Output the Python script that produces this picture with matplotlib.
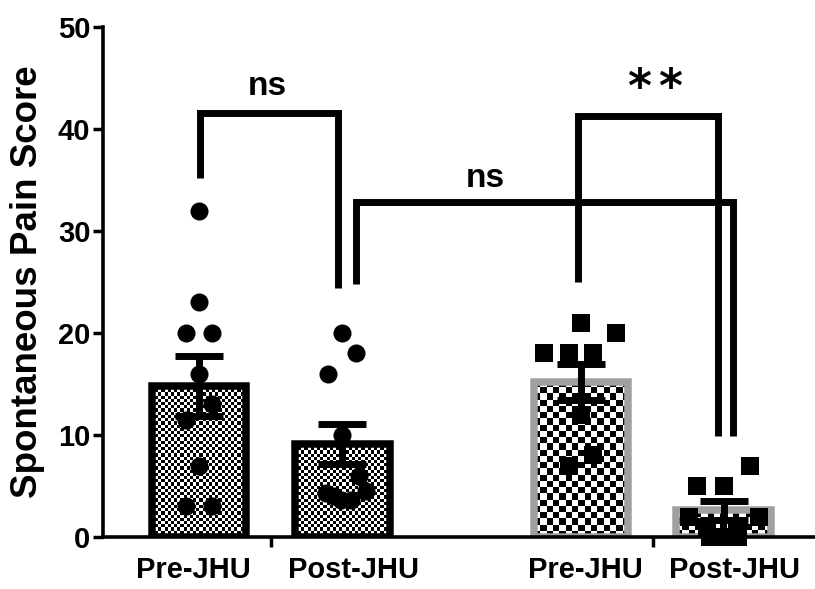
import numpy as np
import matplotlib
matplotlib.use('Agg')
import matplotlib.pyplot as plt

plt.rcParams['font.family'] = ['Liberation Sans', 'DejaVu Sans']
plt.rcParams['font.weight'] = 'bold'

# data
groups = ['Pre-JHU', 'Post-JHU', 'Pre-JHU', 'Post-JHU']
means = [14.8, 9.1, 15.2, 2.6]
sems = [2.95, 1.95, 1.8, 0.9]

pre_1 = [32, 23, 20, 20, 16, 13, 11.5, 7, 3, 3]
post_1 = [20, 18, 16, 10, 6, 4.5, 4.3, 4, 3.6, 3.6]
pre_2 = [21, 20, 18, 18, 18, 12, 8, 7]
post_2 = [7, 5, 5, 2, 2, 1, 1, 0, 0, 0]
points = [pre_1, post_1, pre_2, post_2]

# layout
xpos = [0, 1, 2.663, 3.656]
label_x = [-0.042, 1.08, 2.69, 3.735]
sep_x = [0.502, 3.164]
bar_w = 0.66
px_per_unit = 143.5
jitter_px = [
    [0, 0, -13, 13, 0, 13, -13, 0, -13, 13],
    [0, 14, -14, 0, 17, 24, -16, -8, -1, 9],
    [0, 35, -37, -12, 12, 0, 12, -12],
    [26, -27, 0, -35, 35, -17, 13, -14, 0, 14],
]
markers = ['o', 'o', 's', 's']
edge_colors = ['black', 'black', '#a0a0a0', '#a0a0a0']
cell_px = [3.2, 3.2, 6.3, 6.3]

# (x left, x right, top, left bottom, right bottom, text, text x, text y)
brackets = [
    (0.007, 0.969, 41.6, 35.2, 24.4, 'ns', 0.474, 43.3),
    (1.094, 3.721, 32.8, 24.8, 9.9, 'ns', 1.993, 34.3),
    (2.641, 3.617, 41.3, 25.0, 9.9, '**', 3.178, 43.9),
]

fig = plt.figure(figsize=(8.15, 5.89), dpi=100)
ax = fig.add_axes([103 / 815, 52 / 589, 712 / 815, 510 / 589])
xlim = (-0.669, 4.293)
ax.set_xlim(*xlim)
ax.set_ylim(0, 50)

bars = ax.bar(xpos, means, width=bar_w, facecolor='none',
              edgecolor=edge_colors, linewidth=5.4, zorder=2)

# checkerboard fill
for rect, cell in zip(bars, cell_px):
    x0, w, h = rect.get_x(), rect.get_width(), rect.get_height()
    p0, p1 = ax.transData.transform([(x0, 0), (x0 + w, h)])
    nx = max(1, int(round((p1[0] - p0[0]) / cell)))
    ny = max(1, int(round((p1[1] - p0[1]) / cell)))
    board = np.indices((ny, nx)).sum(axis=0) % 2
    ax.imshow(board, cmap='gray', extent=(x0, x0 + w, 0, h), origin='lower',
              interpolation='nearest', aspect='auto', zorder=1)

for x, vals, offs, m in zip(xpos, points, jitter_px, markers):
    xs = [x + o / px_per_unit for o in offs]
    ax.plot(xs, vals, linestyle='none', marker=m, markersize=13,
            color='black', markeredgewidth=0, zorder=3, clip_on=False)

ax.errorbar(xpos, means, yerr=sems, fmt='none', ecolor='black',
            elinewidth=5, capsize=17, capthick=5, zorder=4)

for xl, xr, top, lb, rb, txt, tx, ty in brackets:
    ax.plot([xl, xl, xr, xr], [lb, top, top, rb], color='black', lw=5,
            solid_joinstyle='miter', solid_capstyle='butt', zorder=5)
    if txt == '**':
        # two stars, slightly apart
        for dx in (-15.5, 15.5):
            ax.text(tx + dx / px_per_unit, ty, '*', ha='center', va='center',
                    fontsize=33, family='DejaVu Sans', fontweight='bold')
    else:
        ax.text(tx, ty, txt, ha='center', va='baseline', fontsize=24,
                fontweight='bold')

ax.set_xlim(*xlim)
ax.set_ylim(0, 50)

for s in ['top', 'right']:
    ax.spines[s].set_visible(False)
for s in ['left', 'bottom']:
    ax.spines[s].set_linewidth(2.6)

ax.set_yticks(range(0, 51, 10))
ax.tick_params(axis='y', length=7, width=2.5, pad=2, labelsize=21)
ax.set_xticks(label_x)
ax.set_xticklabels(groups)
ax.set_xticks(sep_x, minor=True)
ax.tick_params(axis='x', which='major', length=0, pad=14, labelsize=21)
ax.tick_params(axis='x', which='minor', length=7, width=2.5)
for lab in ax.get_xticklabels() + ax.get_yticklabels():
    lab.set_fontweight('bold')

fig.text(28 / 815, 1 - 282 / 589, 'Spontaneous Pain Score', rotation=90,
         ha='center', va='center', fontsize=26.5, fontweight='bold')

fig.savefig('out.png', dpi=100)
